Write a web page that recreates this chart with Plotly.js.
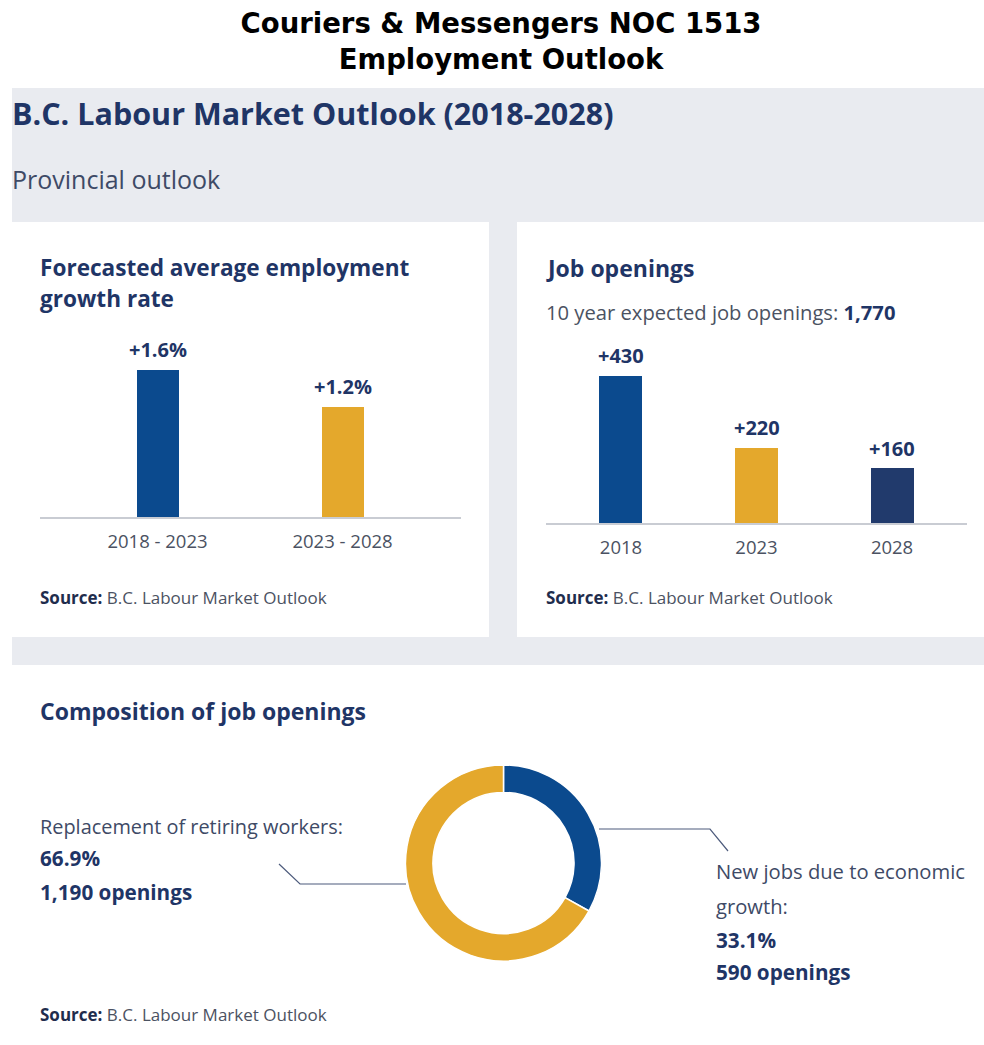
<!DOCTYPE html>
<html>
<head>
<meta charset="utf-8">
<script src="https://cdn.plot.ly/plotly-3.0.1.min.js"></script>
<style>
  html, body { margin: 0; padding: 0; background: #ffffff; }
  #chart { width: 984px; height: 1045px; }
</style>
</head>
<body>
<div id="chart"></div>
<script>
// ---------------- data ----------------
const growthPeriods = ['2018 - 2023', '2023 - 2028'];
const growthRates = [1.6, 1.2];
const growthLabels = ['+1.6%', '+1.2%'];

const openingYears = ['2018', '2023', '2028'];
const openingValues = [430, 220, 160];
const openingLabels = ['+430', '+220', '+160'];
const totalOpenings = '1,770';

const compositionLabels = ['New jobs due to economic growth', 'Replacement of retiring workers'];
const compositionOpenings = [590, 1190];
const compositionShares = ['33.1%', '66.9%'];
const compositionCounts = ['590 openings', '1,190 openings'];

// ---------------- styling ----------------
const W = 984, H = 1045;
const X = px => px / W;
const Y = py => 1 - py / H;

const NAVY = '#1f3566';
const BLUE = '#0b4a8e';
const GOLD = '#e4a82c';
const DARKNAVY = '#213a6c';
const GREYTXT = '#4b5262';
const PANEL = '#e9ebf0';
const FONT = 'Open Sans, sans-serif';

const traces = [
  {
    type: 'bar', x: growthPeriods, y: growthRates,
    xaxis: 'x', yaxis: 'y',
    marker: { color: [BLUE, GOLD] },
    width: 0.227, hoverinfo: 'skip', showlegend: false
  },
  {
    type: 'bar', x: openingYears, y: openingValues,
    xaxis: 'x2', yaxis: 'y2',
    marker: { color: [BLUE, GOLD, DARKNAVY] },
    width: 0.317, hoverinfo: 'skip', showlegend: false
  },
  {
    type: 'pie', labels: compositionLabels, values: compositionOpenings,
    hole: 0.72, sort: false, direction: 'clockwise', rotation: 0,
    marker: { colors: [BLUE, GOLD], line: { color: '#ffffff', width: 1.5 } },
    textinfo: 'none', hoverinfo: 'skip', showlegend: false,
    domain: { x: [X(405), X(602)], y: [Y(961), Y(765)] }
  }
];

const annotations = [];
function txt(x, y, text, size, color, extra) {
  annotations.push(Object.assign({
    xref: 'paper', yref: 'paper', x: X(x - 2), y: Y(y),
    xanchor: 'left', yanchor: 'middle', showarrow: false,
    text: text, font: { family: FONT, size: size, color: color }
  }, extra || {}));
}

const SUB = '#3e4a66';
// headings
txt(12, 113, '<b>B.C. Labour Market Outlook (2018-2028)</b>', 30.5, NAVY);
txt(12, 179, 'Provincial outlook', 25, SUB);

// card 1
txt(40, 267, '<b>Forecasted average employment</b>', 22.6, NAVY);
txt(40, 298, '<b>growth rate</b>', 22.6, NAVY);
const srcText = '<b><span style="color:#1f2d4d">Source:</span></b> B.C. Labour Market Outlook';
txt(40, 597, srcText, 17, GREYTXT);

// card 2
txt(546, 268, '<b>Job openings</b>', 23, NAVY);
txt(546, 312, '10 year expected job openings: <b><span style="color:' + NAVY + '">' + totalOpenings + '</span></b>', 20.2, GREYTXT);
txt(546, 597, srcText, 17, GREYTXT);

// card 3
txt(40, 711, '<b>Composition of job openings</b>', 23, NAVY);
txt(40, 826, 'Replacement of retiring workers:', 19.9, SUB);
txt(40, 858, '<b>' + compositionShares[1] + '</b>', 20.7, NAVY);
txt(40, 892, '<b>' + compositionCounts[1] + '</b>', 20.7, NAVY);
txt(716, 871, 'New jobs due to economic', 20.2, SUB);
txt(716, 906, 'growth:', 20.2, SUB);
txt(716, 940, '<b>' + compositionShares[0] + '</b>', 20.7, NAVY);
txt(716, 972, '<b>' + compositionCounts[0] + '</b>', 20.7, NAVY);
txt(40, 1014, srcText, 17, GREYTXT);

// bar value labels (positioned from the data through each axis)
growthPeriods.forEach((c, i) => annotations.push({
  xref: 'x', yref: 'y', x: i, y: growthRates[i], yshift: 20,
  xanchor: 'center', yanchor: 'middle', showarrow: false,
  text: '<b>' + growthLabels[i] + '</b>', font: { family: FONT, size: 20, color: NAVY }
}));
openingYears.forEach((c, i) => annotations.push({
  xref: 'x2', yref: 'y2', x: i, y: openingValues[i], yshift: 20,
  xanchor: 'center', yanchor: 'middle', showarrow: false,
  text: '<b>' + openingLabels[i] + '</b>', font: { family: FONT, size: 20, color: NAVY }
}));

const shapes = [
  { type: 'rect', xref: 'paper', yref: 'paper', x0: X(12), x1: X(984), y0: Y(1045), y1: Y(88), fillcolor: PANEL, line: { width: 0 }, layer: 'below' },
  { type: 'rect', xref: 'paper', yref: 'paper', x0: X(12), x1: X(489), y0: Y(637), y1: Y(222), fillcolor: '#ffffff', line: { width: 0 }, layer: 'below' },
  { type: 'rect', xref: 'paper', yref: 'paper', x0: X(517), x1: X(984), y0: Y(637), y1: Y(222), fillcolor: '#ffffff', line: { width: 0 }, layer: 'below' },
  { type: 'rect', xref: 'paper', yref: 'paper', x0: X(12), x1: X(984), y0: Y(1045), y1: Y(665), fillcolor: '#ffffff', line: { width: 0 }, layer: 'below' },
  { type: 'path', xref: 'paper', yref: 'paper',
    path: `M ${X(406)} ${Y(884)} L ${X(300)} ${Y(884)} L ${X(279)} ${Y(864)}`,
    line: { color: '#4d5b7c', width: 1.2 } },
  { type: 'path', xref: 'paper', yref: 'paper',
    path: `M ${X(599)} ${Y(829)} L ${X(710)} ${Y(829)} L ${X(728)} ${Y(851)}`,
    line: { color: '#4d5b7c', width: 1.2 } }
];

const xCommon = {
  type: 'category', showline: true, linecolor: '#c9ccd3', linewidth: 1.5,
  showgrid: false, zeroline: false, ticks: '', fixedrange: true,
  tickfont: { family: FONT, size: 18.5, color: GREYTXT }, ticklabelstandoff: 7
};
const yCommon = { visible: false, showgrid: false, zeroline: false, fixedrange: true };

const layout = {
  width: W, height: H,
  margin: { l: 0, r: 0, t: 0, b: 0 },
  paper_bgcolor: '#ffffff', plot_bgcolor: 'rgba(0,0,0,0)',
  font: { family: FONT },
  title: {
    text: '<b>Couriers &amp; Messengers NOC 1513<br>Employment Outlook</b>',
    font: { family: 'DejaVu Sans, Verdana, sans-serif', size: 27.5, color: '#000000' },
    xref: 'paper', yref: 'container', x: X(501), xanchor: 'center', y: Y(33), yanchor: 'middle'
  },
  xaxis: Object.assign({}, xCommon, { domain: [X(40), X(461)], range: [-0.635, 1.64], anchor: 'y' }),
  yaxis: Object.assign({}, yCommon, { domain: [Y(517), Y(330)], range: [0, (517 - 330) / 92], anchor: 'x' }),
  xaxis2: Object.assign({}, xCommon, { domain: [X(546), X(967)], range: [-0.553, 2.553], anchor: 'y2' }),
  yaxis2: Object.assign({}, yCommon, { domain: [Y(523), Y(330)], range: [0, (523 - 330) / 0.342], anchor: 'x2' }),
  shapes: shapes,
  annotations: annotations,
  bargap: 0
};

Plotly.newPlot('chart', traces, layout, { displayModeBar: false, staticPlot: true });
</script>
</body>
</html>
